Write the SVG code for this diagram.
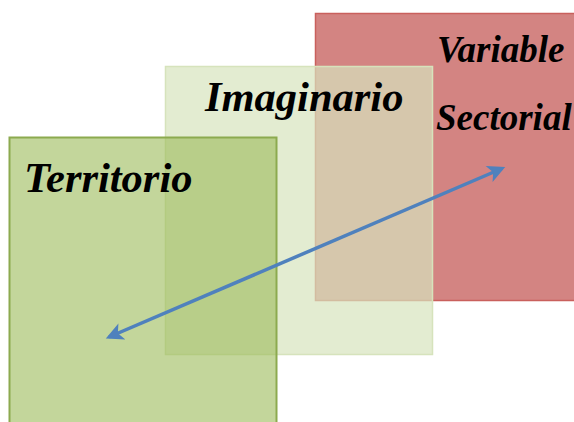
<svg xmlns="http://www.w3.org/2000/svg" width="574" height="422" viewBox="0 0 574 422">
<style>
text{font-family:"Liberation Serif","Times New Roman",serif;font-weight:700;font-style:italic;fill:#000}
</style>
<defs>
<marker id="ah" viewBox="0 0 10 10" refX="8" refY="5" markerWidth="6" markerHeight="5" orient="auto-start-reverse" markerUnits="strokeWidth">
<path d="M0,0 L10,5 L0,10 L2.5,5 z" fill="#4f81bd"/>
</marker>
</defs>
<rect width="574" height="422" fill="#fff"/>
<g id="variable-sectorial">
<rect x="315.5" y="13.5" width="270" height="287" fill="#c0504d" fill-opacity="0.7" stroke="#c9605d" stroke-width="1.5"/>
<text x="437" y="62" font-size="37">Variable</text>
<text x="436" y="130" font-size="37">Sectorial</text>
</g>
<g id="imaginario">
<rect x="165.5" y="66.5" width="267" height="288" fill="#d7e4bd" fill-opacity="0.7" stroke="#d6e3bc" stroke-width="1.5"/>
<text x="205" y="111" font-size="42.5">Imaginario</text>
</g>
<g id="territorio">
<rect x="9.5" y="137.5" width="267" height="300" fill="#9bbb59" fill-opacity="0.6" stroke="#8caa4f" stroke-width="2"/>
<text x="24" y="192" font-size="42.5">Territorio</text>
</g>
<g id="connectors">
<line x1="502" y1="168.5" x2="109" y2="337" stroke="#4f81bd" stroke-width="3.5" marker-start="url(#ah)" marker-end="url(#ah)"/>
</g>
</svg>
